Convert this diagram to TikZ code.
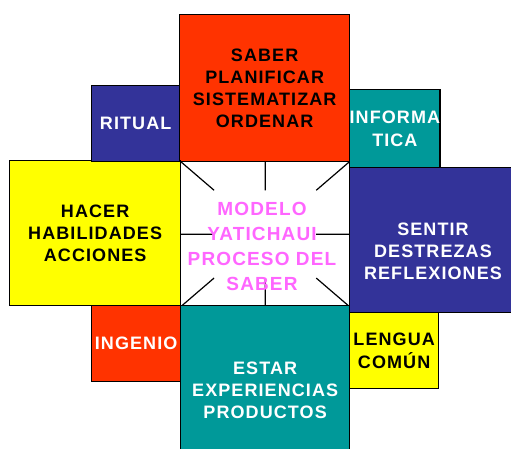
\documentclass[tikz,border=0pt]{standalone}
\usepackage{fontspec}
\setmainfont{Liberation Sans}[LetterSpace=6]
\usetikzlibrary{calc}

\definecolor{rojo}{HTML}{FF3300}
\definecolor{azul}{HTML}{333399}
\definecolor{verde}{HTML}{009999}
\definecolor{amarillo}{HTML}{FFFF00}
\definecolor{rosa}{HTML}{FF66FF}

\tikzset{
  caja/.style 2 args={draw=black, line width=1.3pt, inner sep=0pt, anchor=north west,
    minimum width=#1, minimum height=#2, align=center},
  grande/.style={font=\fontsize{18}{22}\selectfont\bfseries},
  chico/.style={font=\fontsize{18}{23}\selectfont\bfseries},
  linea/.style={line width=1.2pt}
}

\begin{document}
\begin{tikzpicture}[x=1pt,y=-1pt]
\clip (0,0) rectangle (511,448);

% centro
\node[caja={169}{145}, fill=white] (centro) at (180,161) {};
\foreach \a in {north west,north,north east,east,south east,south,south west,west}
{
  \draw[linea] (centro.\a) -- ($(centro.\a)!0.4!(centro.center)$);
}
\node[align=center, text=rosa, font=\fontsize{19}{25}\selectfont\bfseries] (modelo) at (262,246)
  {MODELO\\YATICHAUI\\PROCESO DEL\\SABER};

% cajas grandes
\node[caja={170}{147}, fill=rojo, grande] (saber) at (179,14)
  {SABER\\PLANIFICAR\\SISTEMATIZAR\\ORDENAR};
\node[caja={171}{145}, fill=amarillo, grande] (hacer) at (9,160)
  {HACER\\HABILIDADES\\ACCIONES};
\node[caja={170}{145}, fill=azul] (sentir) at (349,167) {};
\node[text=white, align=center, grande] (sentirtxt) at (433,251)
  {SENTIR\\DESTREZAS\\REFLEXIONES};
\node[caja={169}{170}, fill=verde, text=white, grande] (estar) at (180,305)
  {ESTAR\\EXPERIENCIAS\\PRODUCTOS};

% cajas chicas
\node[caja={88}{76}, fill=azul, text=white, chico] (ritual) at (91,85) {RITUAL};
\node[caja={89}{78}, fill=verde, text=white, chico] (informatica) at (349,89)
  {INFORMA\\TICA};
\node[caja={89}{76}, fill=amarillo, chico] (lengua) at (349,312) {LENGUA\\COMÚN};
\node[caja={89}{76}, fill=rojo, text=white, chico] (ingenio) at (91,305) {INGENIO};
\end{tikzpicture}
\end{document}
